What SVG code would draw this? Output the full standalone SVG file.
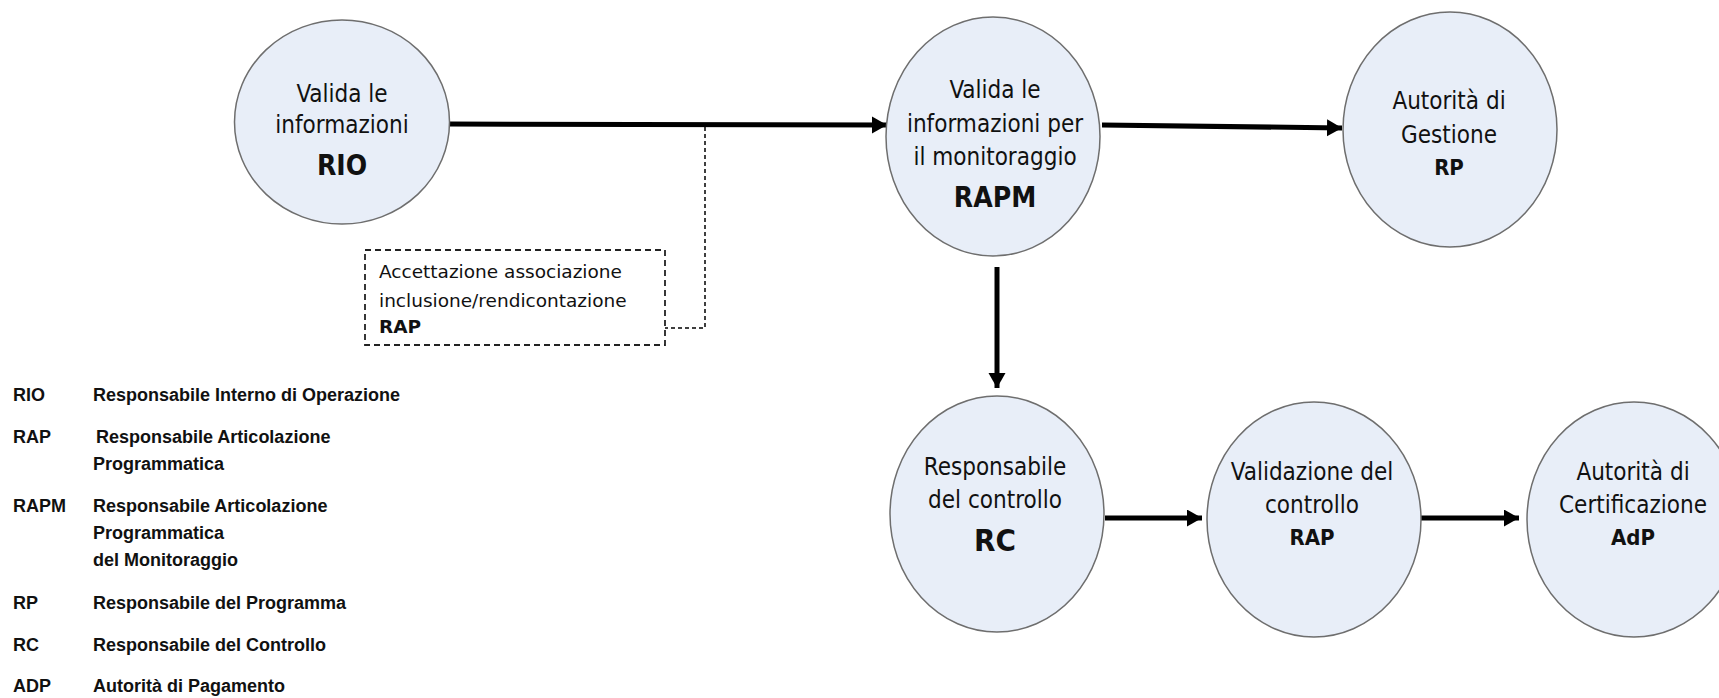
<svg xmlns="http://www.w3.org/2000/svg" width="1719" height="698" viewBox="0 0 1719 698">
<style>
.node ellipse{fill:#e8eef8;stroke:#6e6e6e;stroke-width:1.5}
.t{font-family:"DejaVu Sans Condensed","DejaVu Sans","Liberation Sans",sans-serif;font-size:24px;fill:#111;text-anchor:middle}
.b{font-family:"DejaVu Sans Condensed","DejaVu Sans","Liberation Sans",sans-serif;font-weight:bold;fill:#111;text-anchor:middle}
.note{font-family:"DejaVu Sans","Liberation Sans",sans-serif;font-size:18.5px;fill:#111}
.lg{font-family:"Liberation Sans",Arial,sans-serif;font-weight:bold;font-size:18px;fill:#111}
.conn{stroke:#000;fill:none}
</style>
<defs>
<marker id="ah" markerUnits="userSpaceOnUse" markerWidth="16" markerHeight="18" refX="15" refY="8.5" orient="auto">
<path d="M0,0 L15,8.5 L0,17 z" fill="#000"/>
</marker>
</defs>

<g id="connectors">
<line class="conn" x1="449" y1="124" x2="887" y2="125" stroke-width="5" marker-end="url(#ah)"/>
<line class="conn" x1="1102" y1="125" x2="1342" y2="128" stroke-width="5" marker-end="url(#ah)"/>
<line class="conn" x1="997" y1="267" x2="997" y2="388" stroke-width="5" marker-end="url(#ah)"/>
<line class="conn" x1="1105" y1="518" x2="1202" y2="518" stroke-width="5" marker-end="url(#ah)"/>
<line class="conn" x1="1421" y1="518" x2="1519" y2="518" stroke-width="5" marker-end="url(#ah)"/>
<path class="conn" d="M705,127 V328 H665" stroke-width="1.5" stroke-dasharray="4,3"/>
</g>

<g id="node-rio" class="node">
<ellipse cx="342" cy="122" rx="107.5" ry="102"/>
<text class="t" x="342" y="102">Valida le</text>
<text class="t" x="342" y="133">informazioni</text>
<text class="b" x="342" y="175" font-size="28">RIO</text>
</g>

<g id="node-rapm" class="node">
<ellipse cx="993" cy="136.5" rx="107" ry="119.5"/>
<text class="t" x="995" y="98">Valida le</text>
<text class="t" x="995" y="132">informazioni per</text>
<text class="t" x="995" y="165">il monitoraggio</text>
<text class="b" x="995" y="207" font-size="28">RAPM</text>
</g>

<g id="node-gestione" class="node">
<ellipse cx="1450" cy="129.5" rx="107" ry="117.5"/>
<text class="t" x="1449" y="109">Autorità di</text>
<text class="t" x="1449" y="143">Gestione</text>
<text class="b" x="1449" y="175" font-size="22">RP</text>
</g>

<g id="node-rc" class="node">
<ellipse cx="997" cy="514" rx="107" ry="118"/>
<text class="t" x="995" y="475">Responsabile</text>
<text class="t" x="995" y="508">del controllo</text>
<text class="b" x="995" y="551" font-size="31">RC</text>
</g>

<g id="node-validazione" class="node">
<ellipse cx="1314" cy="519.5" rx="107" ry="117.5"/>
<text class="t" x="1312" y="480">Validazione del</text>
<text class="t" x="1312" y="513">controllo</text>
<text class="b" x="1312" y="545" font-size="22">RAP</text>
</g>

<g id="node-adp" class="node">
<ellipse cx="1634" cy="519.5" rx="107" ry="117.5"/>
<text class="t" x="1633" y="480">Autorità di</text>
<text class="t" x="1633" y="513">Certificazione</text>
<text class="b" x="1633" y="545" font-size="22">AdP</text>
</g>

<g id="note-accettazione">
<rect x="365" y="250" width="300" height="95" fill="none" stroke="#222" stroke-width="1.8" stroke-dasharray="6,4"/>
<text class="note" x="379" y="278">Accettazione associazione</text>
<text class="note" x="379" y="307">inclusione/rendicontazione</text>
<text class="note" x="379" y="333" font-weight="bold">RAP</text>
</g>

<g id="legend">
<text class="lg" x="13" y="401">RIO</text>
<text class="lg" x="93" y="401">Responsabile Interno di Operazione</text>
<text class="lg" x="13" y="443">RAP</text>
<text class="lg" x="96" y="443">Responsabile Articolazione</text>
<text class="lg" x="93" y="470">Programmatica</text>
<text class="lg" x="13" y="512">RAPM</text>
<text class="lg" x="93" y="512">Responsabile Articolazione</text>
<text class="lg" x="93" y="539">Programmatica</text>
<text class="lg" x="93" y="566">del Monitoraggio</text>
<text class="lg" x="13" y="609">RP</text>
<text class="lg" x="93" y="609">Responsabile del Programma</text>
<text class="lg" x="13" y="651">RC</text>
<text class="lg" x="93" y="651">Responsabile del Controllo</text>
<text class="lg" x="13" y="692">ADP</text>
<text class="lg" x="93" y="692">Autorità di Pagamento</text>
</g>
</svg>
